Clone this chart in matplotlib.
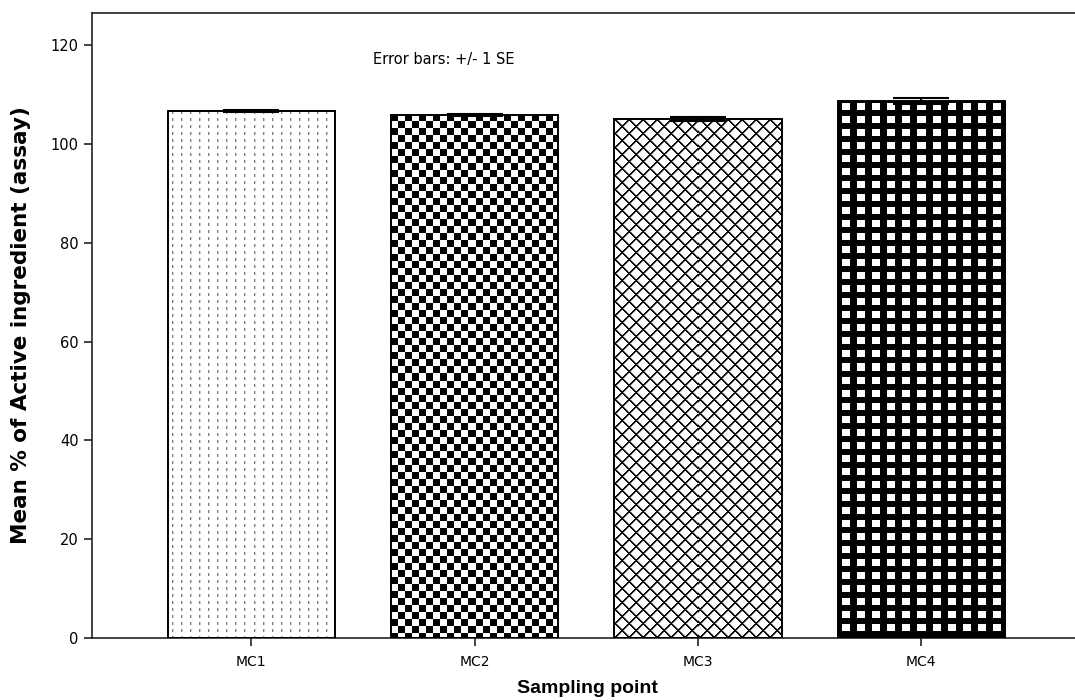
import numpy as np
import matplotlib
matplotlib.use("Agg")
import matplotlib.pyplot as plt

plt.rcParams['font.family'] = ['DejaVu Sans']

categories = ["MC1", "MC2", "MC3", "MC4"]
means = [106.6, 105.9, 105.0, 108.7]
std_err = [0.2, 0.2, 0.4, 0.6]
y_ticks = [0, 20, 40, 60, 80, 100, 120]


def texture(kind, w, h):
    """Builds a grey-level pattern image, one cell per screen pixel."""
    y, x = np.mgrid[0:h, 0:w]
    img = np.ones((h, w))
    if kind == "dots":
        img[(x % 9 == 4) & (y % 7 < 3)] = 0.5
        img[(x % 9 == 5) & (y % 7 < 3)] = 0.8
    elif kind == "checker":
        img[((x // 7) + (y // 7)) % 2 == 0] = 0.0
    elif kind == "diamond":
        img[((x + y) % 14 < 2) | ((x - y) % 14 < 2)] = 0.05
        img[((x + y) % 14 == 2) | ((x - y) % 14 == 2)] *= 0.6
    elif kind == "grid":
        img[:] = 0.0
        img[(x % 15 >= 4) & (x % 15 < 12) & (y % 13 >= 3) & (y % 13 < 10)] = 1.0
    return img


fig = plt.figure(figsize=(10.75, 7.0), dpi=100)
ax = fig.add_axes([92 / 1075, 62 / 700, (1082 - 92) / 1075, (638 - 13) / 700])

pos = np.arange(len(categories))
bars = ax.bar(pos, means, width=0.75, color="none", edgecolor="black",
              linewidth=1.4, zorder=3)
ax.errorbar(pos, means, yerr=std_err, fmt="none", ecolor="black",
            elinewidth=1.5, capsize=20, capthick=1.5, zorder=4)

ax.set_xlim(-0.714, 3.72)
ax.set_ylim(0, 126.5)

for bar, kind in zip(bars, ["dots", "checker", "diamond", "grid"]):
    bb = bar.get_window_extent(renderer=fig.canvas.get_renderer())
    img = texture(kind, int(round(bb.width)), int(round(bb.height)))
    x0, y0 = bar.get_x(), bar.get_y()
    im = ax.imshow(img, cmap="gray", vmin=0, vmax=1, interpolation="nearest",
                   extent=[x0, x0 + bar.get_width(), y0, y0 + bar.get_height()],
                   aspect="auto", zorder=2)
    im.set_clip_path(bar)

ax.set_xticks(pos)
ax.set_xticklabels(categories, fontsize=10)
ax.set_yticks(y_ticks)
ax.set_yticklabels([str(t) for t in y_ticks], fontsize=10.5)
ax.tick_params(axis="both", direction="out", length=6, width=1.2, color="#222222")
ax.tick_params(axis="x", pad=6)
for s in ax.spines.values():
    s.set_linewidth(1.2)
    s.set_color("#222222")

ax.set_xlabel("Sampling point", fontsize=14, fontweight="bold", labelpad=8,
              family=['Liberation Sans', 'DejaVu Sans'])
ax.set_ylabel("Mean % of Active ingredient (assay)", fontsize=15.5,
              fontweight="bold", labelpad=14)
ax.text(0.284, 0.925, "Error bars: +/- 1 SE", transform=ax.transAxes,
        fontsize=10.5, ha="left", va="center")

fig.savefig("out.png", dpi=100)
